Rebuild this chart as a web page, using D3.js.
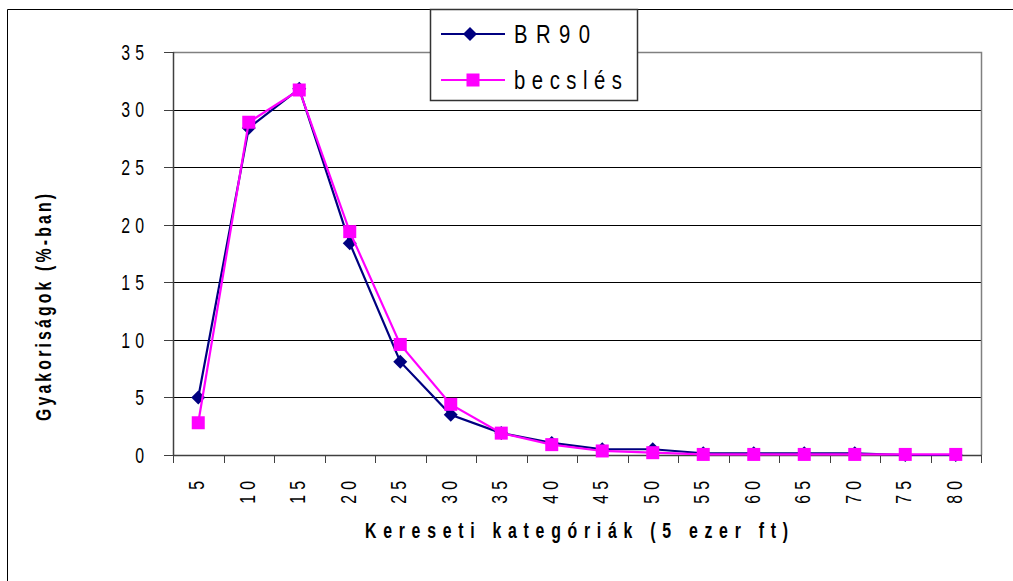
<!DOCTYPE html>
<html>
<head>
<meta charset="utf-8">
<script src="https://cdn.jsdelivr.net/npm/d3@7"></script>
<style>
  body { margin: 0; background: #fff; }
  svg { display: block; font-family: "Liberation Sans", Arial, sans-serif; }
</style>
</head>
<body>
<div id="chart"></div>
<script>
//Datos
const categories = ['5','10','15','20','25','30','35','40','45','50','55','60','65','70','75','80'];
const br90 =    [5.0, 28.4, 31.8, 18.4, 8.1, 3.5, 1.9, 1.05, 0.5, 0.5, 0.15, 0.15, 0.15, 0.15, 0.0, 0.0];
const becsles = [2.8, 28.9, 31.7, 19.4, 9.6, 4.4, 1.9, 0.9, 0.35, 0.2, 0.05, 0.05, 0.05, 0.05, 0.05, 0.05];
const yTicks = [0, 5, 10, 15, 20, 25, 30, 35];

const series = [
  { label: 'BR90', values: br90, color: '#000080', marker: 'diamond' },
  { label: 'becslés', values: becsles, color: '#FF00FF', marker: 'square' }
];

const W = 1013, H = 581;
const plot = { left: 173, right: 981, top: 52, bottom: 455 };
const SX = 0.72; //letra estrecha

let svg = d3.select('#chart').append('svg')
  .attr('width', W).attr('height', H);

//Texto estrecho (escalado horizontal)
function narrowText(g, opts) {
  let t = g.append('text')
    .attr('transform', 'translate(' + opts.x + ',' + opts.y + ')' + (opts.rotate ? ' rotate(' + opts.rotate + ')' : '') + ' scale(' + (opts.sx || SX) + ',1)')
    .attr('font-size', opts.size)
    .attr('text-anchor', opts.anchor || 'start')
    .text(opts.text);
  if (opts.bold) t.attr('font-weight', 'bold');
  if (opts.dy) t.attr('dy', opts.dy);
  if (opts.spacing) t.style('letter-spacing', opts.spacing + 'px');
  if (opts.length) t.attr('textLength', opts.length / (opts.sx || SX)).attr('lengthAdjust', 'spacing');
  return t;
}

//Marco exterior (solo se ven el borde izquierdo y el superior)
svg.append('path')
  .attr('d', 'M7.5,' + H + 'V9.5H' + W)
  .attr('fill', 'none').attr('stroke', '#000').attr('stroke-width', 1);

let x = d3.scaleBand().domain(categories).range([plot.left, plot.right]).paddingInner(0).paddingOuter(0);
let y = d3.scaleLinear().domain([0, 35]).range([plot.bottom, plot.top]);
let cx = d => x(d) + x.bandwidth() / 2;

//Rejilla
svg.append('g').selectAll('line')
  .data(yTicks.filter(t => t > 0 && t < 35))
  .enter().append('line')
  .attr('x1', plot.left).attr('x2', plot.right)
  .attr('y1', d => Math.round(y(d)) + 0.5).attr('y2', d => Math.round(y(d)) + 0.5)
  .attr('stroke', '#000').attr('stroke-width', 1);

//Borde del área de trazado (arriba y derecha, gris)
svg.append('path')
  .attr('d', 'M' + plot.left + ',' + (plot.top + 0.5) + 'H' + (plot.right + 0.5) + 'V' + plot.bottom)
  .attr('fill', 'none').attr('stroke', '#808080').attr('stroke-width', 1.5);

//Eje Y
let yAxis = svg.append('g');
yAxis.append('line')
  .attr('x1', plot.left + 0.5).attr('x2', plot.left + 0.5)
  .attr('y1', plot.top).attr('y2', plot.bottom)
  .attr('stroke', '#404040').attr('stroke-width', 1.5);
yAxis.selectAll('line.tick').data(yTicks).enter().append('line')
  .attr('class', 'tick')
  .attr('x1', plot.left - 9).attr('x2', plot.left)
  .attr('y1', d => Math.round(y(d)) + 0.5).attr('y2', d => Math.round(y(d)) + 0.5)
  .attr('stroke', '#404040');
yTicks.forEach(function(t) {
  narrowText(yAxis, { x: 149, y: y(t), size: 22, anchor: 'end', dy: '0.36em', spacing: 7, text: t });
});

//Eje X (marcas entre categorías)
let xAxis = svg.append('g');
xAxis.append('line')
  .attr('x1', plot.left).attr('x2', plot.right + 1)
  .attr('y1', plot.bottom + 0.5).attr('y2', plot.bottom + 0.5)
  .attr('stroke', '#404040').attr('stroke-width', 1.5);
let edges = categories.map(c => x(c)).concat([plot.right]);
xAxis.selectAll('line.tick').data(edges).enter().append('line')
  .attr('class', 'tick')
  .attr('x1', d => Math.round(d) + 0.5).attr('x2', d => Math.round(d) + 0.5)
  .attr('y1', plot.bottom).attr('y2', plot.bottom + 8)
  .attr('stroke', '#404040');
categories.forEach(function(c) {
  narrowText(xAxis, { x: cx(c) - 2, y: 476, rotate: -90, size: 22, anchor: 'end', dy: '0.36em', spacing: 7, text: c });
});

//Títulos de los ejes
narrowText(svg, { x: 365, y: 538, size: 22, bold: true, length: 423, text: 'Kereseti kategóriák (5 ezer ft)' });
narrowText(svg, { x: 51, y: 421, rotate: -90, size: 22, bold: true, length: 227, text: 'Gyakoriságok (%-ban)' });

//Líneas y marcadores
function drawMarker(g, type, color) {
  if (type === 'diamond') {
    g.append('path').attr('d', 'M0,-7L7,0L0,7L-7,0Z').attr('fill', color);
  } else {
    g.append('rect').attr('x', -6.5).attr('y', -6.5).attr('width', 13).attr('height', 13).attr('fill', color);
  }
}

let line = d3.line()
  .x((d, i) => cx(categories[i]))
  .y(d => y(d));

series.forEach(function(s) {
  let g = svg.append('g');
  g.append('path')
    .datum(s.values)
    .attr('d', line)
    .attr('fill', 'none')
    .attr('stroke', s.color)
    .attr('stroke-width', 2.2);
  g.selectAll('g.pt').data(s.values).enter().append('g')
    .attr('class', 'pt')
    .attr('transform', (d, i) => 'translate(' + cx(categories[i]) + ',' + y(d) + ')')
    .each(function() { drawMarker(d3.select(this), s.marker, s.color); });
});

//Leyenda
let legend = svg.append('g');
legend.append('rect')
  .attr('x', 430.5).attr('y', 9.5).attr('width', 207).attr('height', 91)
  .attr('fill', '#fff').attr('stroke', '#333').attr('stroke-width', 1.5);
series.forEach(function(s, i) {
  let ly = 34 + i * 46;
  legend.append('line')
    .attr('x1', 441).attr('x2', 505).attr('y1', ly).attr('y2', ly)
    .attr('stroke', s.color).attr('stroke-width', 2.2);
  let m = legend.append('g').attr('transform', 'translate(' + (i === 0 ? 470 : 473) + ',' + ly + ')');
  drawMarker(m, s.marker, s.color);
  narrowText(legend, { x: 514, y: ly + 9, size: 26, sx: 0.78, length: i === 0 ? 76 : 108, text: s.label });
});
</script>
</body>
</html>
